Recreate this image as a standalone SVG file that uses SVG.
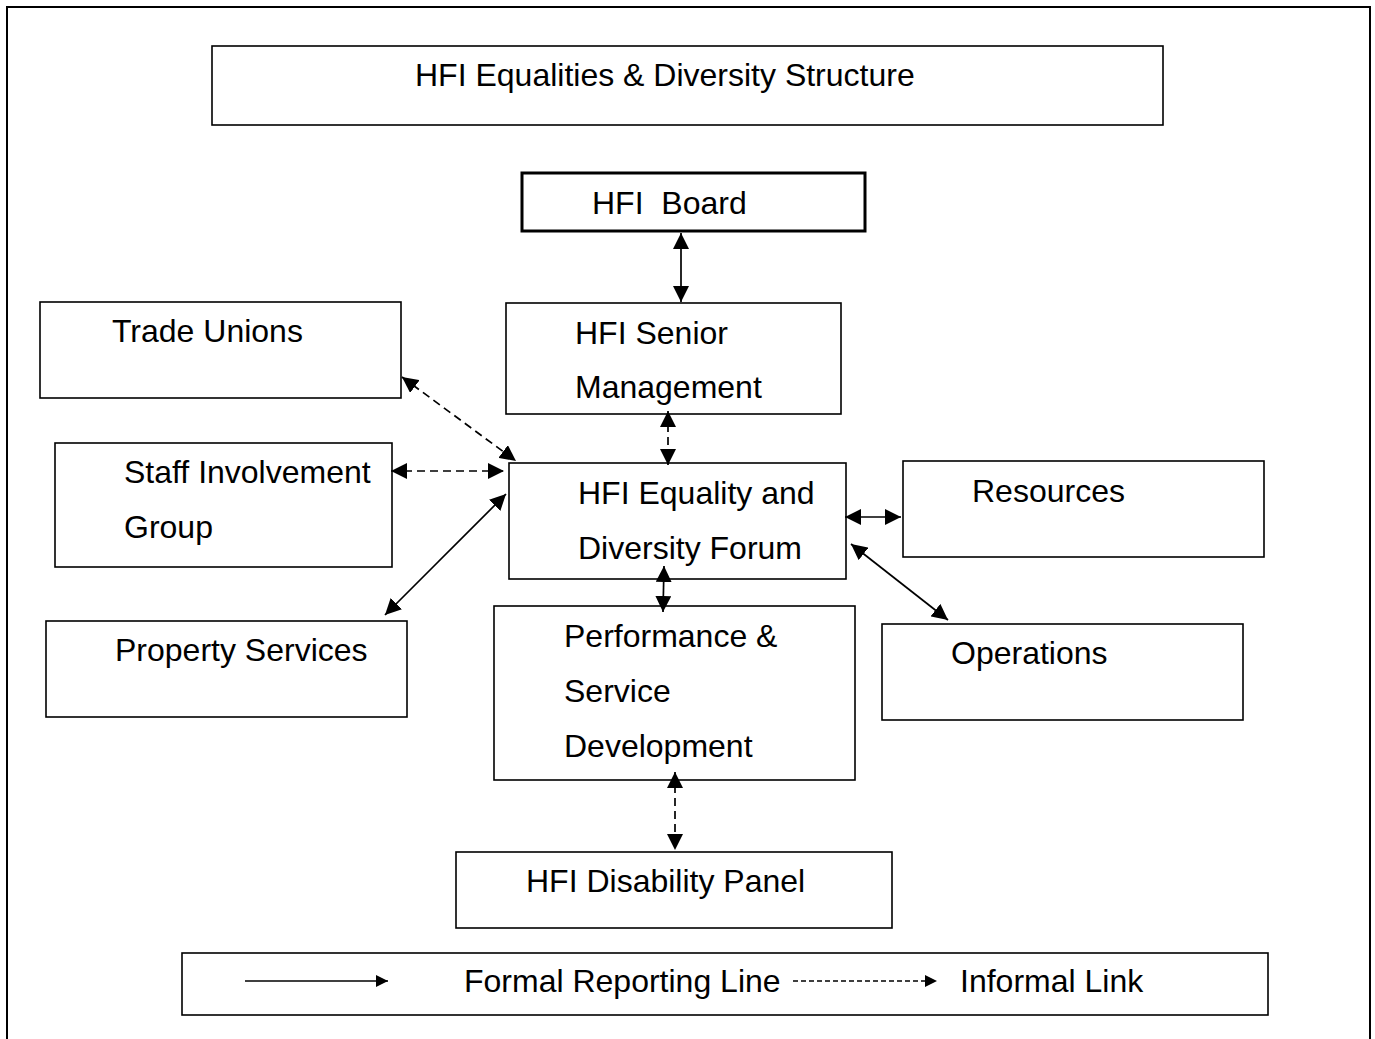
<svg xmlns="http://www.w3.org/2000/svg" width="1375" height="1039" viewBox="0 0 1375 1039">
  <style>
    .box { fill: #ffffff; stroke: #000000; stroke-width: 1.6; }
    .thick { stroke-width: 3; }
    .label { font-family: "Liberation Sans", Arial, sans-serif; font-size: 32px; fill: #000000; }
    .solid { stroke: #000000; stroke-width: 1.7; fill: none; }
    .dash { stroke: #000000; stroke-width: 1.7; fill: none; stroke-dasharray: 8 5; }
    .dash-small { stroke: #000000; stroke-width: 1.6; fill: none; stroke-dasharray: 5 3; }
  </style>
  <defs>
    <marker id="head" viewBox="0 0 16 16" refX="16" refY="8" markerWidth="16" markerHeight="16" markerUnits="userSpaceOnUse" orient="auto-start-reverse">
      <path d="M0,0 L16,8 L0,16 z" fill="#000000"/>
    </marker>
    <marker id="head-small" viewBox="0 0 12 12" refX="12" refY="6" markerWidth="12" markerHeight="12" markerUnits="userSpaceOnUse" orient="auto">
      <path d="M0,0 L12,6 L0,12 z" fill="#000000"/>
    </marker>
  </defs>

  <rect width="1375" height="1039" fill="#ffffff"/>

  <!-- outer page frame, open at the bottom -->
  <path d="M7,1039 L7,7 L1370,7 L1370,1039" fill="none" stroke="#000000" stroke-width="2"/>

  <g id="title">
    <rect class="box" x="212" y="46" width="951" height="79" stroke-width="2"/>
    <text class="label" x="415" y="86" font-size="32.8">HFI Equalities &amp; Diversity Structure</text>
  </g>

  <g id="board">
    <rect class="box thick" x="522" y="173" width="343" height="58"/>
    <text class="label" x="592" y="214" xml:space="preserve">HFI  Board</text>
  </g>

  <g id="senior-management">
    <rect class="box" x="506" y="303" width="335" height="111"/>
    <text class="label" x="575" y="344">HFI Senior</text>
    <text class="label" x="575" y="398">Management</text>
  </g>

  <g id="trade-unions">
    <rect class="box" x="40" y="302" width="361" height="96"/>
    <text class="label" x="112" y="342">Trade Unions</text>
  </g>

  <g id="staff-involvement">
    <rect class="box" x="55" y="443" width="337" height="124"/>
    <text class="label" x="124" y="483">Staff Involvement</text>
    <text class="label" x="124" y="538">Group</text>
  </g>

  <g id="forum">
    <rect class="box" x="509" y="463" width="337" height="116"/>
    <text class="label" x="578" y="504">HFI Equality and</text>
    <text class="label" x="578" y="559">Diversity Forum</text>
  </g>

  <g id="resources">
    <rect class="box" x="903" y="461" width="361" height="96"/>
    <text class="label" x="972" y="502">Resources</text>
  </g>

  <g id="property-services">
    <rect class="box" x="46" y="621" width="361" height="96"/>
    <text class="label" x="115" y="661">Property Services</text>
  </g>

  <g id="performance">
    <rect class="box" x="494" y="606" width="361" height="174"/>
    <text class="label" x="564" y="647">Performance &amp;</text>
    <text class="label" x="564" y="702">Service</text>
    <text class="label" x="564" y="757">Development</text>
  </g>

  <g id="operations">
    <rect class="box" x="882" y="624" width="361" height="96"/>
    <text class="label" x="951" y="664">Operations</text>
  </g>

  <g id="disability-panel">
    <rect class="box" x="456" y="852" width="436" height="76"/>
    <text class="label" x="526" y="892">HFI Disability Panel</text>
  </g>

  <g id="legend">
    <rect class="box" x="182" y="953" width="1086" height="62"/>
    <line class="solid" x1="245" y1="981" x2="388" y2="981" marker-end="url(#head-small)"/>
    <text class="label" x="464" y="992">Formal Reporting Line</text>
    <line class="dash-small" x1="793" y1="981" x2="937" y2="981" marker-end="url(#head-small)"/>
    <text class="label" x="960" y="992">Informal Link</text>
  </g>

  <g id="connectors">
    <!-- formal reporting lines -->
    <line class="solid" x1="681" y1="233" x2="681" y2="302" marker-start="url(#head)" marker-end="url(#head)"/>
    <line class="solid" x1="664" y1="566" x2="663" y2="612" marker-start="url(#head)" marker-end="url(#head)"/>
    <line class="solid" x1="385" y1="615" x2="506" y2="494" marker-start="url(#head)" marker-end="url(#head)"/>
    <line class="solid" x1="845" y1="517" x2="901" y2="517" marker-start="url(#head)" marker-end="url(#head)"/>
    <line class="solid" x1="851" y1="544" x2="948" y2="620" marker-start="url(#head)" marker-end="url(#head)"/>
    <!-- informal links -->
    <line class="dash" x1="668" y1="411" x2="668" y2="465" marker-start="url(#head)" marker-end="url(#head)"/>
    <line class="dash" x1="402" y1="377" x2="516" y2="461" marker-start="url(#head)" marker-end="url(#head)"/>
    <line class="dash" x1="391" y1="471" x2="504" y2="471" marker-start="url(#head)" marker-end="url(#head)"/>
    <line class="dash" x1="675" y1="772" x2="675" y2="850" marker-start="url(#head)" marker-end="url(#head)"/>
  </g>
</svg>
